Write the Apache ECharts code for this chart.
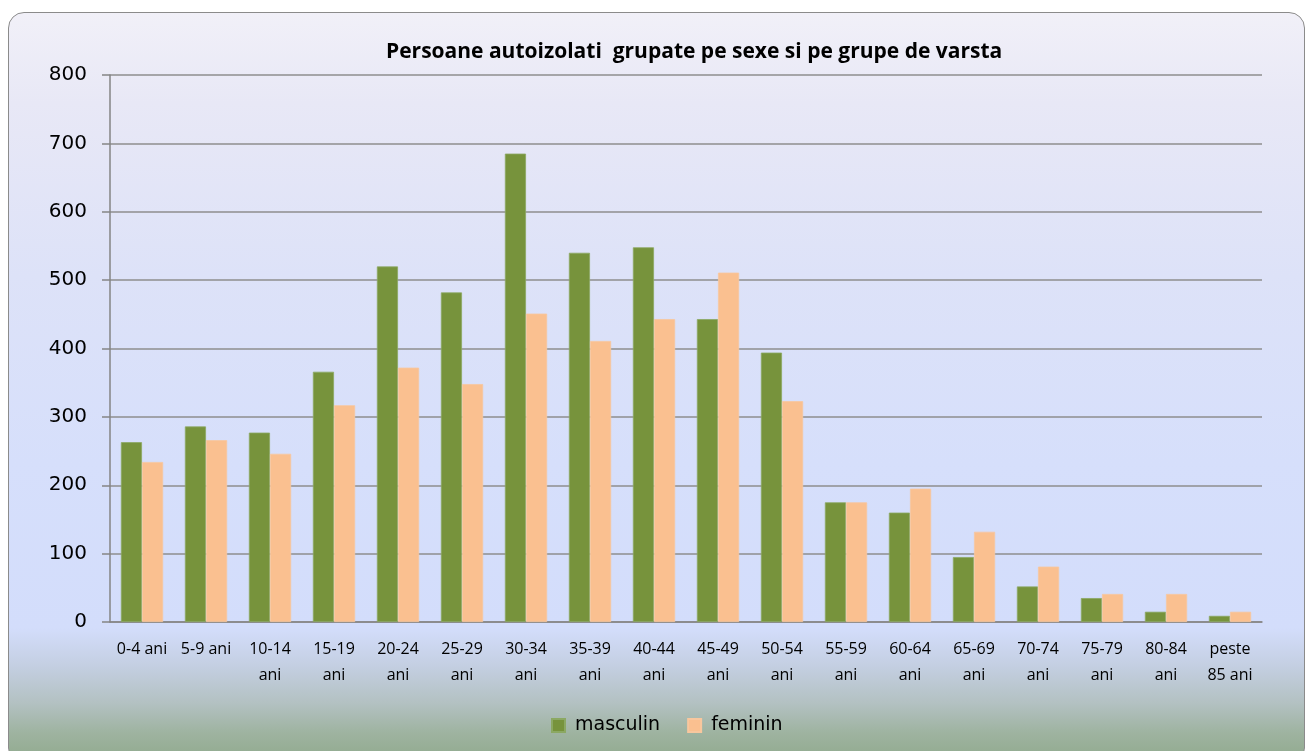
<!DOCTYPE html>
<html>
<head>
<meta charset="utf-8">
<script src="https://cdn.jsdelivr.net/npm/echarts@6/dist/echarts.min.js"></script>
<style>
    html, body { margin: 0; padding: 0; background: #fff; }
    #frame {
        position: absolute; left: 8px; top: 12px; width: 1297px; height: 752px;
        box-sizing: border-box;
        border: 1.5px solid #8b8b8b; border-radius: 16px;
        background: linear-gradient(to bottom, #F1F0F8 0%, #E8E8F6 12%, #DDE2F8 35%, #D6DFFB 60%, #D3DDFB 82%, #C4CFE2 87%, #B3C1C2 92%, #9EB3A0 96%, #8FA98C 100%);
    }
    #main { position: absolute; left: 0; top: 0; width: 1310px; height: 751px; }
</style>
</head>
<body>
<div id="frame"></div>
<div id="main"></div>
<script>
var categories = ['0-4 ani', '5-9 ani', '10-14 ani', '15-19 ani', '20-24 ani', '25-29 ani', '30-34 ani', '35-39 ani', '40-44 ani',
    '45-49 ani', '50-54 ani', '55-59 ani', '60-64 ani', '65-69 ani', '70-74 ani', '75-79 ani', '80-84 ani', 'peste 85 ani'];
var masculin = [263, 286, 277, 366, 520, 482, 685, 540, 548, 443, 394, 175, 160, 95, 52, 35, 15, 9];
var feminin = [234, 266, 246, 317, 372, 348, 451, 411, 443, 511, 323, 175, 195, 132, 81, 41, 41, 15];
var yMin = 0, yMax = 800, yStep = 100;

var myChart = echarts.init(document.getElementById('main'), null, { renderer: 'canvas' });

// short labels stay on one line, longer ones break at the first space
function wrapLabel(val) {
    return val.length > 7 ? val.replace(' ', '\n') : val;
}

var option = {
    backgroundColor: 'transparent',
    animation: false,
    title: {
        text: 'Persoane autoizolati  grupate pe sexe si pe grupe de varsta',
        left: 381,
        top: 37,
        textStyle: { fontFamily: 'Open Sans', fontWeight: 'bold', fontSize: 21, color: '#000' }
    },
    legend: {
        left: 546,
        top: 711,
        itemWidth: 13,
        itemHeight: 13,
        itemGap: 27,
        icon: 'rect',
        textStyle: { fontFamily: 'DejaVu Sans', fontSize: 19, color: '#000', padding: [0, 0, 0, 5] },
        data: ['masculin', 'feminin']
    },
    grid: { left: 110, right: 48, top: 75, bottom: 129, containLabel: false },
    xAxis: {
        type: 'category',
        data: categories,
        axisLine: { lineStyle: { color: '#858585', width: 1.5 } },
        axisTick: { length: 7, lineStyle: { color: '#858585', width: 1.5 } },
        axisLabel: {
            interval: 0,
            margin: 14,
            fontFamily: 'Open Sans',
            fontSize: 16,
            lineHeight: 26,
            color: '#000',
            formatter: wrapLabel
        }
    },
    yAxis: {
        type: 'value',
        min: yMin,
        max: yMax,
        interval: yStep,
        axisLine: { show: true, lineStyle: { color: '#858585', width: 1.5 } },
        axisTick: { show: true, length: 8, lineStyle: { color: '#858585', width: 1.5 } },
        axisLabel: { margin: 23, fontFamily: 'DejaVu Sans', fontSize: 20, color: '#000' },
        splitLine: { lineStyle: { color: '#8e8e8e', width: 1.5 } }
    },
    series: [
        {
            name: 'masculin',
            type: 'bar',
            data: masculin,
            barGap: '0%',
            barCategoryGap: '34%',
            itemStyle: { color: '#77933C', borderColor: '#8BA862', borderWidth: 0.8 }
        },
        {
            name: 'feminin',
            type: 'bar',
            data: feminin,
            barGap: '0%',
            barCategoryGap: '34%',
            itemStyle: { color: '#FAC090', borderColor: '#F8C79E', borderWidth: 0.8 }
        }
    ]
};

myChart.setOption(option);
</script>
</body>
</html>
